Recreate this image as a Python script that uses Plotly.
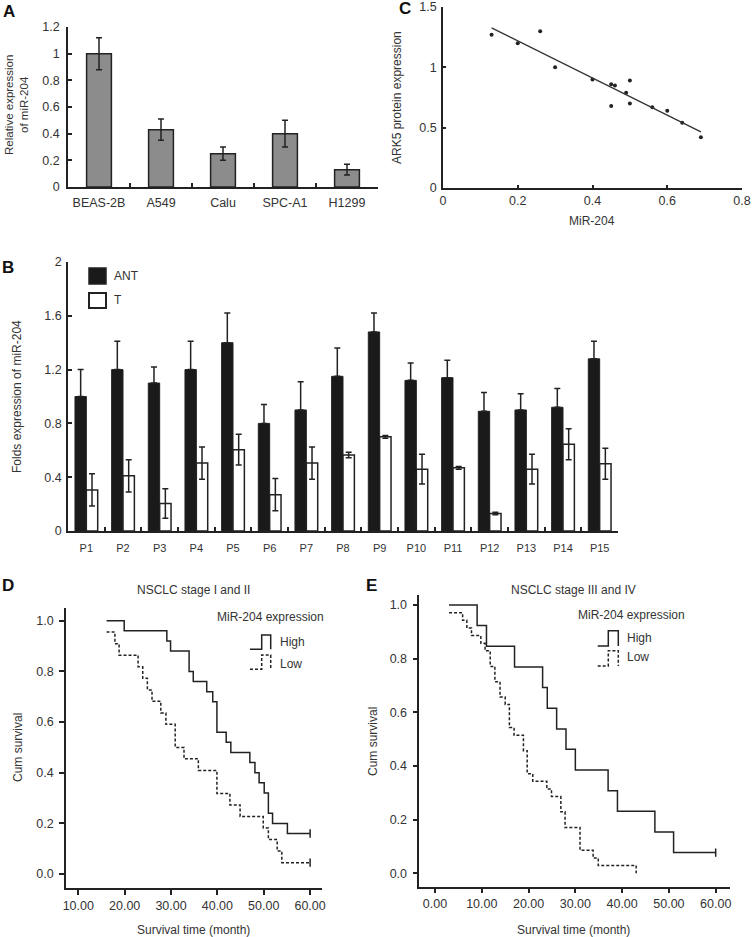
import plotly.graph_objects as go
import numpy as np

W, H = 753, 937

# ---------------- Panel A ----------------
a_cells = ["BEAS-2B", "A549", "Calu", "SPC-A1", "H1299"]
a_values = [1.0, 0.43, 0.25, 0.40, 0.13]
a_errors = [0.12, 0.08, 0.05, 0.10, 0.04]
a_yticks = [0, 0.2, 0.4, 0.6, 0.8, 1.0, 1.2]

# ---------------- Panel B ----------------
b_patients = ["P1", "P2", "P3", "P4", "P5", "P6", "P7", "P8",
              "P9", "P10", "P11", "P12", "P13", "P14", "P15"]
b_ant = [1.0, 1.2, 1.1, 1.2, 1.4, 0.8, 0.9, 1.15, 1.48, 1.12, 1.14, 0.89, 0.90, 0.92, 1.28]
b_ant_err = [0.20, 0.21, 0.12, 0.21, 0.22, 0.14, 0.21, 0.21, 0.14, 0.13, 0.13, 0.14, 0.12, 0.14, 0.13]
b_t = [0.305, 0.41, 0.205, 0.505, 0.605, 0.27, 0.505, 0.565, 0.70, 0.46, 0.47, 0.13, 0.46, 0.645, 0.50]
b_t_err = [0.12, 0.12, 0.11, 0.12, 0.115, 0.12, 0.12, 0.02, 0.01, 0.11, 0.01, 0.01, 0.11, 0.115, 0.115]
b_yticks = [0, 0.4, 0.8, 1.2, 1.6, 2.0]

# ---------------- Panel C ----------------
c_mir204 = [0.13, 0.20, 0.26, 0.30, 0.40, 0.45, 0.46, 0.45, 0.49, 0.50, 0.50, 0.56, 0.60, 0.64, 0.69]
c_ark5 = [1.27, 1.20, 1.30, 1.00, 0.90, 0.86, 0.85, 0.68, 0.79, 0.89, 0.70, 0.67, 0.64, 0.54, 0.42]

# ---------------- Panel D ----------------
d_high_t = [16.1, 19.9, 29.1, 29.9, 33.9, 34.8, 37.7, 39.0, 39.9, 41.9, 42.9, 47.0, 48.1, 49.0, 50.1, 51.0, 51.9, 55.1, 60]
d_high_s = [1.0, 0.96, 0.92, 0.88, 0.80, 0.76, 0.72, 0.68, 0.56, 0.52, 0.48, 0.44, 0.40, 0.36, 0.32, 0.24, 0.20, 0.16, 0.16]
d_low_t = [16.1, 17.9, 18.8, 22.9, 23.9, 24.9, 25.9, 27.8, 28.9, 30.9, 32.8, 35.9, 39.9, 42.7, 44.9, 49.9, 51.0, 52.9, 53.9, 60]
d_low_s = [0.955, 0.909, 0.864, 0.818, 0.773, 0.727, 0.682, 0.636, 0.591, 0.5, 0.455, 0.409, 0.318, 0.273, 0.227, 0.182, 0.136, 0.091, 0.045, 0.045]

# ---------------- Panel E ----------------
e_high_t = [3, 9, 11, 17, 23, 24, 26, 28, 30, 37, 39, 47, 51, 60]
e_high_s = [1.0, 0.923, 0.846, 0.769, 0.692, 0.615, 0.538, 0.462, 0.385, 0.308, 0.231, 0.154, 0.077, 0.077]
e_low_t = [3, 5.9, 6.8, 7.8, 9.8, 10.7, 11.8, 12.8, 13.9, 15.0, 15.9, 16.9, 18.9, 19.7, 20.9, 23.9, 24.9, 26.9, 27.8, 31.0, 33.8, 34.9, 43.0]
e_low_s = [0.971, 0.943, 0.914, 0.886, 0.857, 0.829, 0.771, 0.714, 0.657, 0.629, 0.543, 0.514, 0.457, 0.371, 0.343, 0.314, 0.286, 0.229, 0.171, 0.086, 0.057, 0.029, 0.0]

FONT = "Liberation Sans, Arial, Helvetica, sans-serif"
TXT = "#333333"
LINE = "#222222"


def px(x):
    return x / W


def py(y):
    return 1 - y / H


fig = go.Figure()

# Panel A bars
fig.add_trace(go.Bar(
    x=a_cells, y=a_values, xaxis="x", yaxis="y",
    marker=dict(color="#8c8c8c", line=dict(color=LINE, width=1.5)),
    error_y=dict(type="data", array=a_errors, color=LINE, thickness=1.5, width=3),
    width=0.4, showlegend=False))

# Panel B bars
fig.add_trace(go.Bar(
    x=b_patients, y=b_ant, xaxis="x2", yaxis="y2", name="ANT",
    marker=dict(color="#1a1a1a", line=dict(color=LINE, width=1)),
    error_y=dict(type="data", symmetric=False, array=b_ant_err,
                 arrayminus=[0] * len(b_ant_err), color=LINE, thickness=1.5, width=3),
    offsetgroup="ant", showlegend=False))
fig.add_trace(go.Bar(
    x=b_patients, y=b_t, xaxis="x2", yaxis="y2", name="T",
    marker=dict(color="white", line=dict(color=LINE, width=1.5)),
    error_y=dict(type="data", array=b_t_err, color=LINE, thickness=1.5, width=3),
    offsetgroup="t", showlegend=False))

# Panel C scatter + fit
fig.add_trace(go.Scatter(
    x=c_mir204, y=c_ark5, xaxis="x3", yaxis="y3", mode="markers",
    marker=dict(color=LINE, size=4), showlegend=False))
slope, intercept = np.polyfit(c_mir204, c_ark5, 1)
fx = np.array([min(c_mir204), max(c_mir204)])
fig.add_trace(go.Scatter(
    x=fx, y=slope * fx + intercept, xaxis="x3", yaxis="y3", mode="lines",
    line=dict(color="#333333", width=1.3), showlegend=False))

# Panel D curves
fig.add_trace(go.Scatter(
    x=d_high_t, y=d_high_s, xaxis="x4", yaxis="y4", mode="lines",
    line=dict(color=LINE, width=1.5, shape="hv"), showlegend=False))
fig.add_trace(go.Scatter(
    x=d_low_t, y=d_low_s, xaxis="x4", yaxis="y4", mode="lines",
    line=dict(color=LINE, width=1.5, shape="hv", dash="3px,2px"), showlegend=False))
fig.add_trace(go.Scatter(
    x=[d_high_t[-1], d_low_t[-1]], y=[d_high_s[-1], d_low_s[-1]], xaxis="x4", yaxis="y4",
    mode="markers", marker=dict(symbol="line-ns", size=6, line=dict(color=LINE, width=1.5)),
    showlegend=False))

# Panel E curves
fig.add_trace(go.Scatter(
    x=e_high_t, y=e_high_s, xaxis="x5", yaxis="y5", mode="lines",
    line=dict(color=LINE, width=1.5, shape="hv"), showlegend=False))
fig.add_trace(go.Scatter(
    x=e_low_t, y=e_low_s, xaxis="x5", yaxis="y5", mode="lines",
    line=dict(color=LINE, width=1.5, shape="hv", dash="3px,2px"), showlegend=False))
fig.add_trace(go.Scatter(
    x=[e_high_t[-1]], y=[e_high_s[-1]], xaxis="x5", yaxis="y5",
    mode="markers", marker=dict(symbol="line-ns", size=6, line=dict(color=LINE, width=1.5)),
    showlegend=False))

tickfont = dict(family=FONT, size=12.5, color=TXT)
common = dict(showline=True, linecolor=LINE, linewidth=1.5, showgrid=False, zeroline=False,
              tickfont=tickfont, tickcolor=LINE, tickwidth=1.5, mirror=False, automargin=False,
              tickangle=0)

fig.update_layout(
    template="none",
    width=W, height=H, margin=dict(l=0, r=0, t=0, b=0, autoexpand=False),
    paper_bgcolor="white", plot_bgcolor="white",
    bargap=0.38, bargroupgap=0.0, barmode="group",
    font=dict(family=FONT, color=TXT, size=12),
    # Panel A
    xaxis=dict(domain=[px(68), px(378)], anchor="y", type="category",
               tickson="boundaries", ticks="inside", ticklen=4, ticklabelstandoff=3, **common),
    yaxis=dict(domain=[py(187), py(27)], anchor="x", range=[0, 1.2],
               tickvals=a_yticks, ticks="inside", ticklen=4, ticklabelstandoff=4, **common),
    # Panel B
    xaxis2=dict(domain=[px(68), px(618)], anchor="y2", type="category",
                tickson="boundaries", ticks="inside", ticklen=4, ticklabelstandoff=6,
                **{**common, "tickfont": dict(family=FONT, size=11, color=TXT)}),
    yaxis2=dict(domain=[py(531), py(262)], anchor="x2", range=[0, 2.0],
                tickvals=b_yticks, ticks="inside", ticklen=4, ticklabelstandoff=2, **common),
    # Panel C
    xaxis3=dict(domain=[px(443), px(742)], anchor="y3", range=[0, 0.8],
                tickvals=[0, 0.2, 0.4, 0.6, 0.8], ticks="inside", ticklen=3, **common),
    yaxis3=dict(domain=[py(188), py(7)], anchor="x3", range=[0, 1.5],
                tickvals=[0, 0.5, 1, 1.5], ticks="inside", ticklen=3, ticklabelstandoff=2, **common),
    # Panel D
    xaxis4=dict(domain=[px(66), px(321.7)], anchor="y4", range=[7.35, 62.5],
                tickvals=[10, 20, 30, 40, 50, 60], tickformat=".2f",
                ticks="outside", ticklen=5, **common),
    yaxis4=dict(domain=[py(888), py(608.3)], anchor="x4", range=[-0.055, 1.049],
                tickvals=[0, 0.2, 0.4, 0.6, 0.8, 1.0], tickformat=".1f",
                ticks="outside", ticklen=5, ticklabelstandoff=3, **common),
    # Panel E
    xaxis5=dict(domain=[px(419.3), px(730)], anchor="y5", range=[-3.36, 63.06],
                tickvals=[0, 10, 20, 30, 40, 50, 60], tickformat=".2f",
                ticks="outside", ticklen=5, **common),
    yaxis5=dict(domain=[py(886.7), py(595)], anchor="x5", range=[-0.05, 1.037],
                tickvals=[0, 0.2, 0.4, 0.6, 0.8, 1.0], tickformat=".1f",
                ticks="outside", ticklen=5, ticklabelstandoff=3, **common),
)

ann = []


def text(x, y, s, size=12, bold=False, angle=0, xanchor="center", yanchor="middle", color=TXT):
    ann.append(dict(x=px(x), y=py(y), xref="paper", yref="paper", text=("<b>%s</b>" % s) if bold else s,
                    showarrow=False, xanchor=xanchor, yanchor=yanchor, textangle=angle,
                    font=dict(family=FONT, size=size, color=color if not bold else "#111111")))


# panel letters
text(8.5, 12, "A", size=17, bold=True)
text(7.5, 267.5, "B", size=17, bold=True)
text(405, 9, "C", size=17, bold=True)
text(7.5, 585.5, "D", size=17, bold=True)
text(371.5, 585.5, "E", size=17, bold=True)

# axis titles
text(16, 105, "Relative expression<br>of miR-204", size=11.5, angle=-90)
text(17, 397, "Folds expression of miR-204", size=12, angle=-90)
text(397, 98, "ARK5 protein expression", size=12, angle=-90)
text(592, 221, "MiR-204", size=12)
text(18, 748, "Cum survival", size=12, angle=-90)
text(373, 742, "Cum survival", size=12, angle=-90)
text(193, 930, "Survival time (month)", size=12)
text(573, 930, "Survival time (month)", size=12)

# panel titles
text(193, 590, "NSCLC stage I and II", size=12)
text(573, 590, "NSCLC stage III and IV", size=12)

# B legend
text(112, 276, "ANT", size=12, xanchor="left")
text(112, 300, "T", size=12, xanchor="left")

# D legend
text(270, 617.3, "MiR-204 expression", size=12)
text(278, 641.7, "High", size=12, xanchor="left")
text(278, 664, "Low", size=12, xanchor="left")

# E legend
text(631.7, 615, "MiR-204 expression", size=12)
text(625, 638.3, "High", size=12, xanchor="left")
text(625, 657.3, "Low", size=12, xanchor="left")

fig.update_layout(annotations=ann)

shapes = []
# B legend boxes
shapes.append(dict(type="rect", xref="paper", yref="paper", x0=px(89), x1=px(106), y0=py(284), y1=py(268),
                   fillcolor="#1a1a1a", line=dict(color=LINE, width=1.5)))
shapes.append(dict(type="rect", xref="paper", yref="paper", x0=px(89), x1=px(106), y0=py(308), y1=py(293),
                   fillcolor="white", line=dict(color=LINE, width=2)))


def step_icon(x0, x1, x2, ytop, ybot, dash):
    path = "M %f,%f L %f,%f L %f,%f L %f,%f L %f,%f" % (
        px(x0), py(ybot), px(x1), py(ybot), px(x1), py(ytop), px(x2), py(ytop), px(x2), py(ybot))
    shapes.append(dict(type="path", xref="paper", yref="paper", path=path,
                       line=dict(color=LINE, width=1.5, dash=dash)))


step_icon(250, 261.7, 270.7, 635, 649.3, "solid")
step_icon(250, 261.7, 270.7, 655, 669.3, "3px,2px")
step_icon(597.7, 608.3, 618.3, 630.7, 646, "solid")
step_icon(597.7, 608.3, 618.3, 650.7, 666, "3px,2px")

fig.update_layout(shapes=shapes)

fig.write_html("out.html", config={"displayModeBar": False},
               post_script="document.body.style.margin='0';document.body.style.overflow='hidden';")
